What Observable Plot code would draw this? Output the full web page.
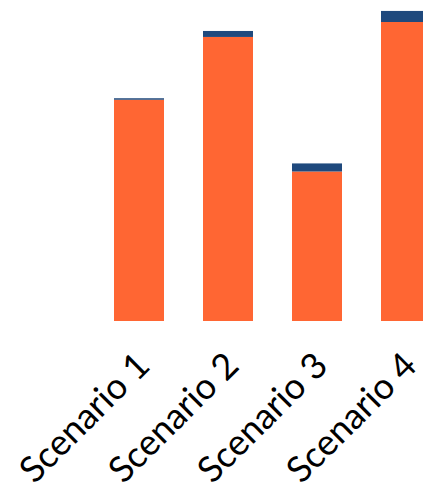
<!DOCTYPE html>
<html>
<head>
<meta charset="utf-8">
<script src="https://cdn.jsdelivr.net/npm/d3@7"></script>
<script src="https://cdn.jsdelivr.net/npm/@observablehq/plot@0.6"></script>
<style>
  html, body { margin: 0; padding: 0; background: #fff; overflow: hidden; }
  #chart svg { overflow: visible; }
</style>
</head>
<body>
<div id="chart"></div>
<script>
const scenarios = ["Scenario 1", "Scenario 2", "Scenario 3", "Scenario 4"];
const seriesNames = ["Base", "Extra"];
const baseValues = [74, 95, 50, 100];
const extraValues = [0.5, 2, 2.7, 3.7];
const seriesColors = ["#FF6633", "#1F497D"];

const rows = [];
scenarios.forEach((s, i) => {
  rows.push({scenario: s, series: seriesNames[0], value: baseValues[i]});
  rows.push({scenario: s, series: seriesNames[1], value: extraValues[i]});
});

const chart = Plot.plot({
  width: 423,
  height: 484,
  marginTop: 22,
  marginBottom: 163,
  marginLeft: 0,
  marginRight: 0,
  style: {fontFamily: "Lato, sans-serif", background: "#fff"},
  x: {domain: scenarios, range: [67, 478], paddingInner: 0.4333, paddingOuter: 0.5, label: null},
  y: {domain: [0, 100], axis: null},
  color: {domain: seriesNames, range: seriesColors},
  marks: [
    Plot.barY(rows, Plot.stackY({x: "scenario", y: "value", fill: "series", order: seriesNames})),
    Plot.axisX({tickSize: 0, tickRotate: -45, tickPadding: 38, dx: 4, fontSize: 36, fill: "#000", label: null})
  ]
});
document.getElementById("chart").appendChild(chart);
</script>
</body>
</html>
